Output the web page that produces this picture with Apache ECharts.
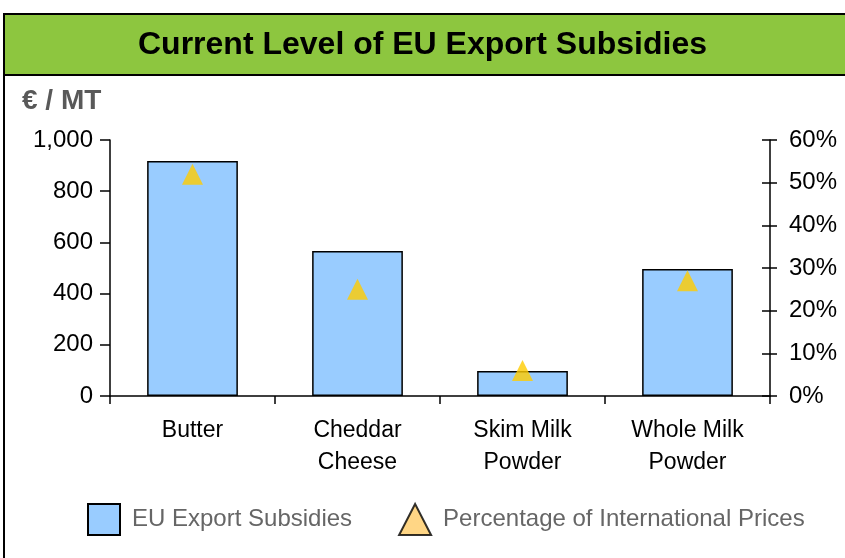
<!DOCTYPE html>
<html><head><meta charset="utf-8">
<script src="https://cdn.jsdelivr.net/npm/echarts@6/dist/echarts.min.js"></script>
<style>html,body{margin:0;padding:0;background:#fff}#c{width:845px;height:558px}</style>
</head><body><div id="c"></div>
<script>
const categories = ['Butter', 'Cheddar\nCheese', 'Skim Milk\nPowder', 'Whole Milk\nPowder'];
const subsidies = [918, 566, 98, 496];
const pctIntl = [52, 25, 6, 27];
const leftTicks = [0, 200, 400, 600, 800, 1000];
const rightTicks = [0, 10, 20, 30, 40, 50, 60];

const chart = echarts.init(document.getElementById('c'));
const font = 'Arial, "Liberation Sans", sans-serif';
chart.setOption({
  animation: false,
  graphic: [
    {type:'rect', shape:{x:4, y:14, width:850, height:560}, style:{fill:'#fff', stroke:'#000', lineWidth:2}, z:-10},
    {type:'rect', shape:{x:4, y:14, width:850, height:61}, style:{fill:'#8DC63F', stroke:'#000', lineWidth:2}, z:-9},
    {type:'text', left:'center', top:29, style:{text:'Current Level of EU Export Subsidies', font:'bold 32px ' + font, fill:'#000'}, z:5},
    {type:'text', left:22, top:87, style:{text:'€ / MT', font:'bold 28px ' + font, fill:'#595959'}, z:5}
  ],
  legend: {
    top: 498, left: 82, itemGap: 46, itemWidth: 32, itemHeight: 31,
    textStyle: {fontFamily: font, fontSize: 24, color: '#666666', padding:[0,0,0,7]},
    data: [
      {name:'EU Export Subsidies', icon:'rect', itemStyle:{color:'#99CCFF', borderColor:'#000', borderWidth:2}},
      {name:'Percentage of International Prices', icon:'triangle', itemStyle:{color:'#FFCC66', borderColor:'#000', borderWidth:2}}
    ]
  },
  grid: {left:110, right:75, top:140, bottom:162, containLabel:false},
  xAxis: {
    type:'category', data: categories,
    axisLine:{lineStyle:{color:'#000', width:1.5}},
    axisTick:{show:true, alignWithLabel:false, length:8, lineStyle:{color:'#000', width:1.5}},
    axisLabel:{fontFamily:font, fontSize:23, color:'#000', lineHeight:32, margin:19}
  },
  yAxis: [
    {type:'value', min:0, max:1000, interval:200, position:'left',
     axisLine:{show:true, lineStyle:{color:'#000', width:1.5}},
     axisTick:{show:true, length:10, lineStyle:{color:'#000', width:1.5}},
     splitLine:{show:false},
     axisLabel:{fontFamily:font, fontSize:24, color:'#000', margin:17,
       formatter: v => leftTicks.includes(v) ? v.toLocaleString('en-US') : ''}},
    {type:'value', min:0, max:60, interval:10, position:'right',
     axisLine:{show:true, lineStyle:{color:'#000', width:1.5}},
     axisTick:{show:true, length:7, lineStyle:{color:'#000', width:1.5}},
     splitLine:{show:false},
     axisLabel:{fontFamily:font, fontSize:24, color:'#000', margin:19,
       formatter: v => rightTicks.includes(v) ? v + '%' : ''}},
    {type:'value', min:0, max:60, interval:10, position:'right',
     axisLine:{show:false},
     axisTick:{show:true, inside:true, length:8, lineStyle:{color:'#000', width:1.5}},
     splitLine:{show:false}, axisLabel:{show:false}}
  ],
  series: [
    {name:'EU Export Subsidies', type:'bar', data: subsidies, yAxisIndex:0, barWidth:'55%',
     itemStyle:{color:'#99CCFF', borderColor:'#000', borderWidth:1.5}},
    {name:'Percentage of International Prices', type:'scatter', data: pctIntl, yAxisIndex:1,
     symbol:'triangle', symbolSize:[21,21], itemStyle:{color:'#FFCC00'}, z:10}
  ]
});
</script>
</body></html>
